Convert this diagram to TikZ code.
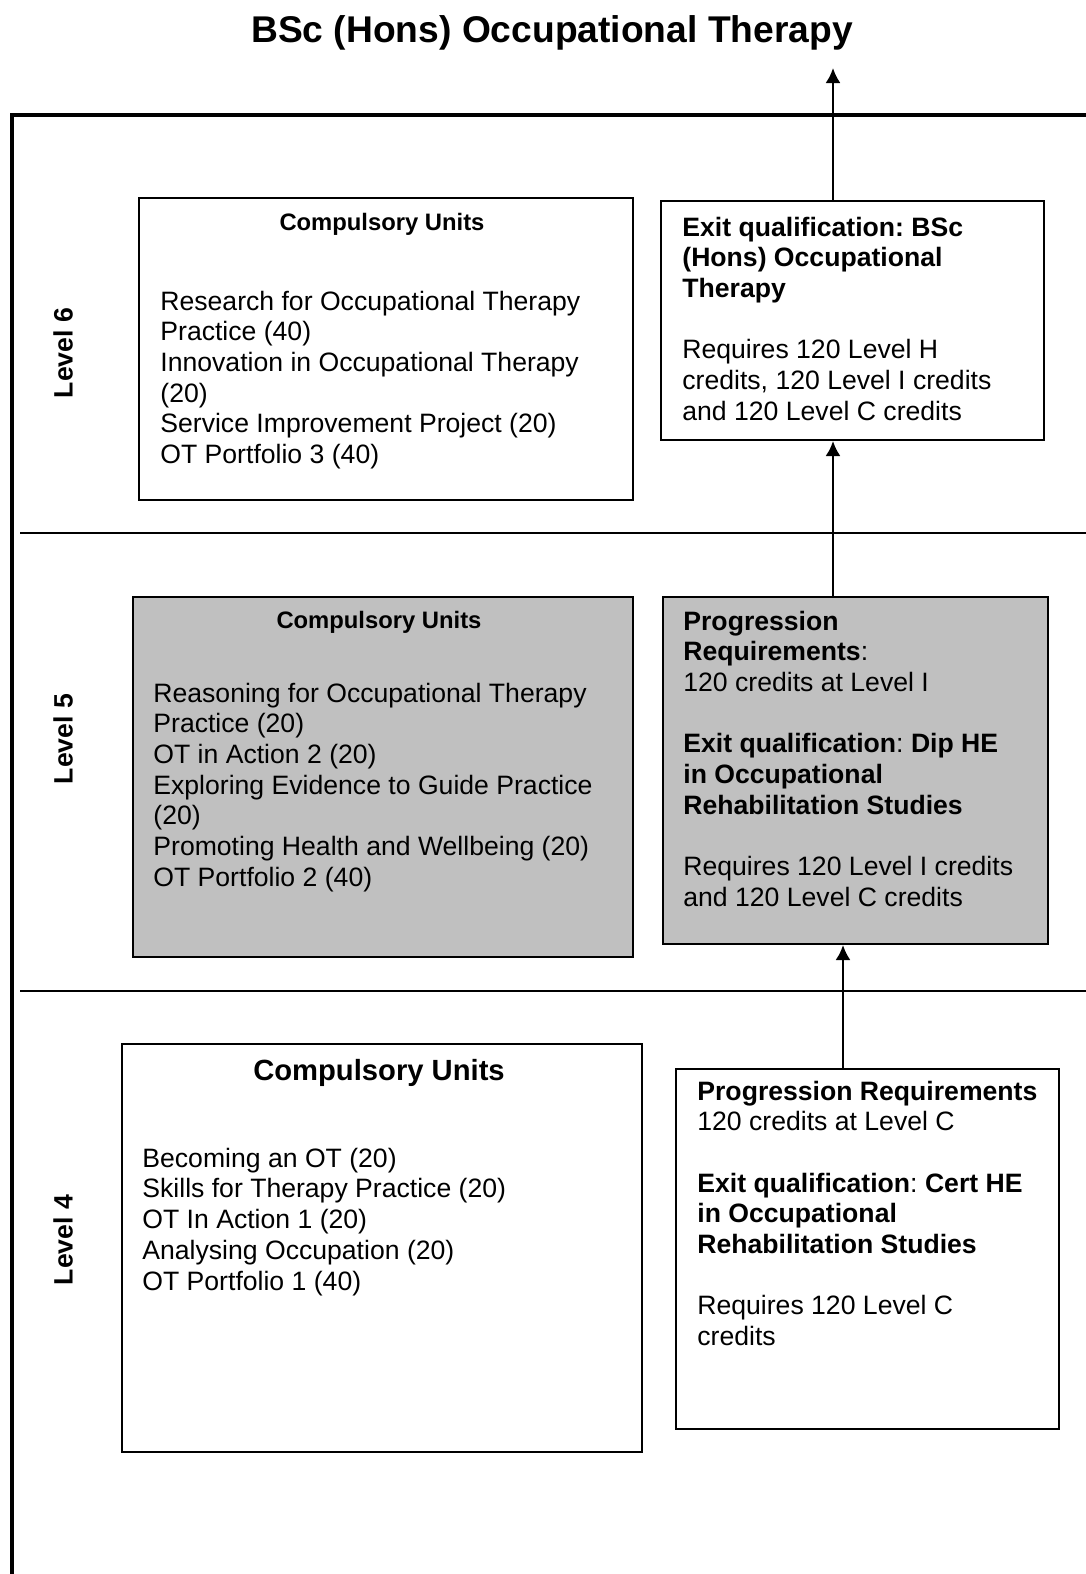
\documentclass[tikz,border=0pt]{standalone}
\usepackage{fontspec}
\setmainfont{Liberation Sans}
\usetikzlibrary{arrows.meta}
\definecolor{unitgray}{HTML}{C0C0C0}
\frenchspacing

\begin{document}
\begin{tikzpicture}[x=0.5pt,y=-0.5pt,
  box/.style={draw=black,line width=1pt,anchor=north west,inner sep=0pt},
  greybox/.style={box,fill=unitgray},
  txt/.style={anchor=base west,align=left,inner sep=0pt,font=\fontsize{13.3}{15.35}\selectfont},
  head/.style={anchor=base,inner sep=0pt,font=\fontsize{11.9}{14}\selectfont\bfseries},
  level/.style={rotate=90,inner sep=0pt,font=\fontsize{13.3}{15.35}\selectfont\bfseries},
  flow/.style={line width=1.2pt,-{Latex[length=7.5pt,width=7.5pt]}}]

\useasboundingbox (0,0) rectangle (1086,1574);

\node[anchor=base,inner sep=0pt,font=\fontsize{18.6}{22}\selectfont\bfseries] (title) at (552,42) {BSc (Hons) Occupational Therapy};

\draw[line width=2pt] (1090,115) -- (12,115) -- (12,1580);
\draw[line width=1.3pt] (20,533) -- (1090,533);
\draw[line width=1.3pt] (20,991) -- (1090,991);

\node[level] (lev6) at (63,353) {Level 6};
\node[level] (lev5) at (63,739) {Level 5};
\node[level] (lev4) at (63,1240) {Level 4};

\node[box,minimum width=247pt,minimum height=151pt] (units6) at (138,197) {};
\node[head] (units6head) at (382,230) {Compulsory Units};
\node[txt] (units6list) at (160,463.5) {Research for Occupational Therapy\\Practice (40)\\Innovation in Occupational Therapy\\(20)\\Service Improvement Project (20)\\OT Portfolio 3 (40)};

\node[box,minimum width=191.5pt,minimum height=119.5pt] (exit6) at (660,200) {};
\node[txt] (exit6text) at (682,420.2) {\textbf{Exit qualification: BSc}\\\textbf{(Hons) Occupational}\\\textbf{Therapy}\\[15.35pt]Requires 120 Level H\\credits, 120 Level I credits\\and 120 Level C credits};

\node[greybox,minimum width=250pt,minimum height=180.25pt] (units5) at (131.5,595.5) {};
\node[head] (units5head) at (379,628) {Compulsory Units};
\node[txt] (units5list) at (153,886.2) {Reasoning for Occupational Therapy\\Practice (20)\\OT in Action 2 (20)\\Exploring Evidence to Guide Practice\\(20)\\Promoting Health and Wellbeing (20)\\OT Portfolio 2 (40)};

\node[greybox,minimum width=192.5pt,minimum height=173.5pt] (prog5) at (662,596) {};
\node[txt] (prog5text) at (683,906.3) {\textbf{Progression}\\\textbf{Requirements}:\\120 credits at Level I\\[15.35pt]\textbf{Exit qualification}: \textbf{Dip HE}\\\textbf{in Occupational}\\\textbf{Rehabilitation Studies}\\[15.35pt]Requires 120 Level I credits\\and 120 Level C credits};

\node[box,minimum width=260pt,minimum height=204pt] (units4) at (121,1043) {};
\node[head,font=\fontsize{14.6}{17}\selectfont\bfseries] (units4head) at (379,1080) {Compulsory Units};
\node[txt] (units4list) at (142,1290) {Becoming an OT (20)\\Skills for Therapy Practice (20)\\OT In Action 1 (20)\\Analysing Occupation (20)\\OT Portfolio 1 (40)};

\node[box,minimum width=191.5pt,minimum height=180pt] (prog4) at (675,1068) {};
\node[txt] (prog4text) at (697,1345.6) {\textbf{Progression Requirements}\\120 credits at Level C\\[15.35pt]\textbf{Exit qualification}: \textbf{Cert HE}\\\textbf{in Occupational}\\\textbf{Rehabilitation Studies}\\[15.35pt]Requires 120 Level C\\credits};

\coordinate (toptip) at (833,68);
\coordinate (lowx) at (843,0);
\draw[flow] (exit6.north -| toptip) -- (toptip);
\draw[flow] (prog5.north -| toptip) -- (exit6.south -| toptip);
\draw[flow] (prog4.north -| lowx) -- (prog5.south -| lowx);

\end{tikzpicture}
\end{document}
